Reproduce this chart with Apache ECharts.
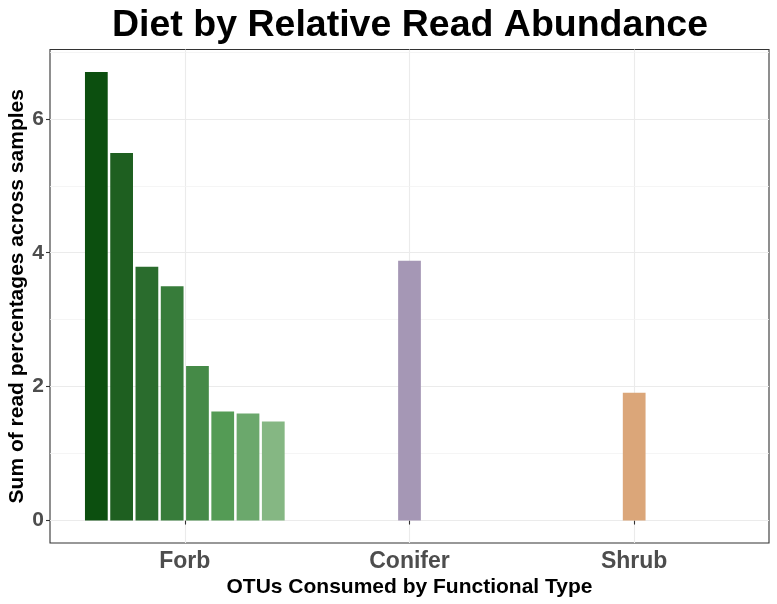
<!DOCTYPE html>
<html>
<head>
<meta charset="utf-8">
<script src="https://cdn.jsdelivr.net/npm/echarts@6/dist/echarts.min.js"></script>
<style>html,body{margin:0;padding:0;background:#fff}#c{width:777px;height:604px}</style>
</head>
<body>
<div id="c"></div>
<script>
// ---- data ----
var categories = ['Forb', 'Conifer', 'Shrub'];
var forbValues = [6.70, 5.49, 3.79, 3.50, 2.31, 1.63, 1.60, 1.48];
var coniferValues = [3.88];
var shrubValues = [1.91];
var yTicks = [0, 2, 4, 6];
var yMinor = [1, 3, 5, 7];

var forbColors = ['#0C4F0F', '#1E5F20', '#2A6C2D', '#377C3A', '#458A47', '#549B55', '#6BA86C', '#85B783'];
var coniferColor = '#A597B5';
var shrubColor = '#DBA679';

var font = '"Liberation Sans", Arial, sans-serif';
var slot = 0.9 / 8;            // dodge slot width (data units)
var half = slot * 0.9 / 2;     // half bar width (padding 0.1)

function buildData(vals, catIdx) {
  var n = vals.length;
  return vals.map(function (v, i) {
    var x = (catIdx + 1) + (n > 1 ? (i - (n - 1) / 2) * slot : 0);
    return [x, v, i];
  });
}

function makeRender(colors) {
  return function (params, api) {
    var x = api.value(0), y = api.value(1), i = api.value(2);
    var p1 = api.coord([x - half, y]);
    var p2 = api.coord([x + half, 0]);
    return {
      type: 'rect',
      shape: { x: p1[0], y: p1[1], width: p2[0] - p1[0], height: p2[1] - p1[1] },
      style: { fill: colors[i] }
    };
  };
}

var chart = echarts.init(document.getElementById('c'), null, { renderer: 'canvas' });
chart.setOption({
  animation: false,
  backgroundColor: '#ffffff',
  title: {
    text: 'Diet by Relative Read Abundance',
    left: 405, top: 2, textAlign: 'center',
    textStyle: { fontFamily: font, fontWeight: 'bold', fontSize: 37.5, color: '#000' }
  },
  grid: { left: 50, right: 8, top: 49.5, bottom: 61, containLabel: false, outerBoundsMode: 'none',
          show: true, borderColor: '#333333', borderWidth: 1.1, backgroundColor: 'transparent', z: 0 },
  xAxis: {
    type: 'value', min: 0.4, max: 3.6,
    name: 'OTUs Consumed by Functional Type', nameLocation: 'middle', nameGap: 34, nameMoveOverlap: false,
    nameTextStyle: { fontFamily: font, fontWeight: 'bold', fontSize: 21, color: '#000' },
    axisLine: { show: false },
    axisTick: { show: true, customValues: [1, 2, 3], length: 4, lineStyle: { color: '#333333', width: 1.1 } },
    axisLabel: { customValues: [1, 2, 3], margin: 7, fontFamily: font, fontWeight: 'bold', fontSize: 23, color: '#4D4D4D',
                 formatter: function (v) { return categories[Math.round(v) - 1] || ''; } },
    splitLine: { show: true, lineStyle: { color: '#EBEBEB', width: 1.1 } }
  },
  yAxis: {
    type: 'value', min: -0.335, max: 7.035,
    name: 'Sum of read percentages across samples', nameLocation: 'middle', nameGap: 22, nameMoveOverlap: false,
    nameTextStyle: { fontFamily: font, fontWeight: 'bold', fontSize: 21, color: '#000' },
    axisLine: { show: false },
    axisTick: { show: true, customValues: yTicks, length: 4, lineStyle: { color: '#333333', width: 1.1 } },
    axisLabel: { customValues: yTicks, margin: 6, fontFamily: font, fontWeight: 'bold', fontSize: 21, color: '#4D4D4D' },
    splitLine: { show: true, lineStyle: { color: '#EBEBEB', width: 1.1 } }
  },
  series: [
    {
      type: 'line', data: [], silent: true, z: 0, zlevel: 0,
      markLine: { silent: true, symbol: 'none', label: { show: false }, z: 0,
        lineStyle: { color: '#F2F2F2', width: 0.8, type: 'solid' },
        data: yMinor.map(function (v) { return { yAxis: v }; }) }
    },
    { type: 'custom', z: 10, renderItem: makeRender(forbColors), data: buildData(forbValues, 0), encode: { x: 0, y: 1 } },
    { type: 'custom', z: 10, renderItem: makeRender([coniferColor]), data: buildData(coniferValues, 1), encode: { x: 0, y: 1 } },
    { type: 'custom', z: 10, renderItem: makeRender([shrubColor]), data: buildData(shrubValues, 2), encode: { x: 0, y: 1 } }
  ]
});
</script>
</body>
</html>
